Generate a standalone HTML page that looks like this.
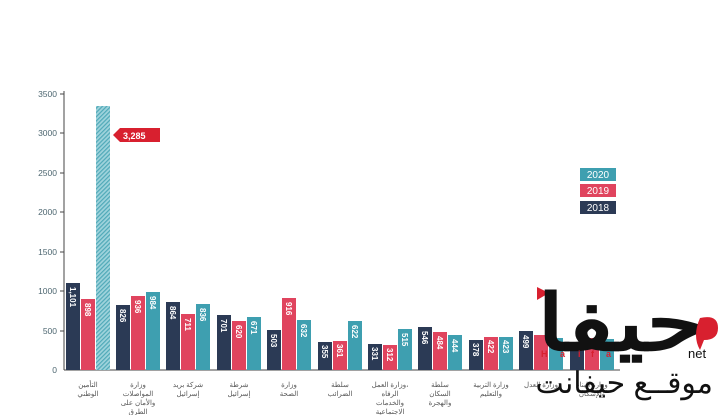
<!DOCTYPE html>
<html><head><meta charset="utf-8"><style>
html,body{margin:0;padding:0;background:#fff;width:728px;height:415px;overflow:hidden}
svg{display:block}
.t{font-family:"Liberation Sans",sans-serif;font-size:8.5px;fill:#4d6670}
.v{font-family:"Liberation Sans",sans-serif;font-size:8px;fill:#fff;font-weight:bold}
.c{font-family:"Liberation Sans","Noto Sans CJK SC",sans-serif;font-size:7px;fill:#555}
</style></head><body>
<svg width="728" height="415" xmlns="http://www.w3.org/2000/svg">
<defs><pattern id="h" width="3" height="3" patternUnits="userSpaceOnUse" patternTransform="rotate(45)"><rect width="3" height="3" fill="#9fd3dc"/><rect width="1.2" height="3" fill="#4fa9b8"/></pattern></defs>
<g class="t" text-anchor="end">
<text x="57" y="373">0</text><text x="57" y="334">500</text><text x="57" y="294">1000</text><text x="57" y="255">1500</text><text x="57" y="215">2000</text><text x="57" y="176">2500</text><text x="57" y="136">3000</text><text x="57" y="97">3500</text>
</g>
<g stroke="#444" stroke-width="1">
<line x1="64" y1="91" x2="64" y2="370"/><line x1="64" y1="370" x2="620" y2="370"/>
<line x1="60" y1="94" x2="64" y2="94"/><line x1="60" y1="133" x2="64" y2="133"/><line x1="60" y1="173" x2="64" y2="173"/><line x1="60" y1="212" x2="64" y2="212"/><line x1="60" y1="252" x2="64" y2="252"/><line x1="60" y1="291" x2="64" y2="291"/><line x1="60" y1="331" x2="64" y2="331"/>
</g>
<g id="bars">
<rect x="66" y="283" width="14" height="87" fill="#2b3a55"/><rect x="81" y="299" width="14" height="71" fill="#e0445e"/><rect x="96" y="106" width="14" height="264" fill="url(#h)"/>
<rect x="116" y="305" width="14" height="65" fill="#2b3a55"/><rect x="131" y="296" width="14" height="74" fill="#e0445e"/><rect x="146" y="292" width="14" height="78" fill="#3e9fb0"/>
<rect x="166" y="302" width="14" height="68" fill="#2b3a55"/><rect x="181" y="314" width="14" height="56" fill="#e0445e"/><rect x="196" y="304" width="14" height="66" fill="#3e9fb0"/>
<rect x="217" y="315" width="14" height="55" fill="#2b3a55"/><rect x="232" y="321" width="14" height="49" fill="#e0445e"/><rect x="247" y="317" width="14" height="53" fill="#3e9fb0"/>
<rect x="267" y="330" width="14" height="40" fill="#2b3a55"/><rect x="282" y="298" width="14" height="72" fill="#e0445e"/><rect x="297" y="320" width="14" height="50" fill="#3e9fb0"/>
<rect x="318" y="342" width="14" height="28" fill="#2b3a55"/><rect x="333" y="341" width="14" height="29" fill="#e0445e"/><rect x="348" y="321" width="14" height="49" fill="#3e9fb0"/>
<rect x="368" y="344" width="14" height="26" fill="#2b3a55"/><rect x="383" y="345" width="14" height="25" fill="#e0445e"/><rect x="398" y="329" width="14" height="41" fill="#3e9fb0"/>
<rect x="418" y="327" width="14" height="43" fill="#2b3a55"/><rect x="433" y="332" width="14" height="38" fill="#e0445e"/><rect x="448" y="335" width="14" height="35" fill="#3e9fb0"/>
<rect x="469" y="340" width="14" height="30" fill="#2b3a55"/><rect x="484" y="337" width="14" height="33" fill="#e0445e"/><rect x="499" y="337" width="14" height="33" fill="#3e9fb0"/>
<rect x="519" y="331" width="14" height="39" fill="#2b3a55"/><rect x="534" y="335" width="14" height="35" fill="#e0445e"/><rect x="549" y="338" width="14" height="32" fill="#3e9fb0"/>
<rect x="570" y="342" width="14" height="28" fill="#2b3a55"/><rect x="585" y="338" width="14" height="32" fill="#e0445e"/><rect x="600" y="339" width="14" height="31" fill="#3e9fb0"/>
</g>
<g class="v">
<text transform="translate(70,287) rotate(90)">1,101</text><text transform="translate(85,303) rotate(90)">898</text>
<text transform="translate(120,309) rotate(90)">826</text><text transform="translate(135,300) rotate(90)">936</text><text transform="translate(150,296) rotate(90)">984</text>
<text transform="translate(170,306) rotate(90)">864</text><text transform="translate(185,318) rotate(90)">711</text><text transform="translate(200,308) rotate(90)">836</text>
<text transform="translate(221,319) rotate(90)">701</text><text transform="translate(236,325) rotate(90)">620</text><text transform="translate(251,321) rotate(90)">671</text>
<text transform="translate(271,334) rotate(90)">503</text><text transform="translate(286,302) rotate(90)">916</text><text transform="translate(301,324) rotate(90)">632</text>
<text transform="translate(322,345) rotate(90)">355</text><text transform="translate(337,344) rotate(90)">361</text><text transform="translate(352,325) rotate(90)">622</text>
<text transform="translate(372,347) rotate(90)">331</text><text transform="translate(387,348) rotate(90)">312</text><text transform="translate(402,333) rotate(90)">515</text>
<text transform="translate(422,331) rotate(90)">546</text><text transform="translate(437,336) rotate(90)">484</text><text transform="translate(452,339) rotate(90)">444</text>
<text transform="translate(473,343) rotate(90)">378</text><text transform="translate(488,340) rotate(90)">422</text><text transform="translate(503,340) rotate(90)">423</text>
<text transform="translate(523,335) rotate(90)">499</text>
</g>
<polygon points="113,135 120,128 160,128 160,142 120,142" fill="#d8202f"/>
<text x="123" y="139" style="font-family:Liberation Sans,sans-serif;font-size:9px;font-weight:bold;fill:#fff">3,285</text>
<rect x="580" y="168" width="36" height="13" fill="#3e9fb0"/><rect x="580" y="184" width="36" height="13" fill="#e0445e"/><rect x="580" y="201" width="36" height="13" fill="#2b3a55"/>
<g style="font-family:Liberation Sans,sans-serif;font-size:10px;fill:#fff" text-anchor="middle"><text x="598" y="178">2020</text><text x="598" y="194">2019</text><text x="598" y="211">2018</text></g>
<g class="c" text-anchor="middle">
<text x="88" y="387">التأمين</text><text x="88" y="396">الوطني</text>
<text x="138" y="387">وزارة</text><text x="138" y="396">المواصلات</text><text x="138" y="405">والأمان على</text><text x="138" y="414">الطرق</text>
<text x="188" y="387">شركة بريد</text><text x="188" y="396">إسرائيل</text>
<text x="239" y="387">شرطة</text><text x="239" y="396">إسرائيل</text>
<text x="289" y="387">وزارة</text><text x="289" y="396">الصحة</text>
<text x="340" y="387">سلطة</text><text x="340" y="396">الضرائب</text>
<text x="390" y="387">وزارة العمل،</text><text x="390" y="396">الرفاه</text><text x="390" y="405">والخدمات</text><text x="390" y="414">الاجتماعية</text>
<text x="440" y="387">سلطة</text><text x="440" y="396">السكان</text><text x="440" y="405">والهجرة</text>
<text x="491" y="387">وزارة التربية</text><text x="491" y="396">والتعليم</text>
<text x="541" y="387">وزارة العدل</text>
<text x="592" y="387">وزارة البناء</text><text x="592" y="396">والإسكان</text>
</g>
<polygon points="537,287 537,300 549,293" fill="#d8202f"/>
<text x="537" y="350" textLength="170" lengthAdjust="spacingAndGlyphs" style="font-family:'Liberation Sans','Noto Sans CJK SC',sans-serif;font-size:78px;font-weight:bold;fill:#111">حيفا</text>
<path d="M700,318 q18,-4 18,10 q0,12 -14,12 l-4,10 q-8,-14 0,-32z" fill="#d8202f"/>
<g style="font-family:Liberation Sans,sans-serif;font-size:9px;font-weight:bold;fill:#d8202f"><text x="541" y="357">H</text><text x="560" y="357">a</text><text x="578" y="357">i</text><text x="591" y="357">f</text><text x="606" y="357">a</text></g>
<text x="688" y="358" style="font-family:Liberation Sans,sans-serif;font-size:13px;fill:#111">net</text>
<text x="713" y="393" text-anchor="end" style="font-family:'Liberation Sans','Noto Sans CJK SC',sans-serif;font-size:30px;fill:#111">موقــع حيفانت</text>
</svg>
</body></html>
